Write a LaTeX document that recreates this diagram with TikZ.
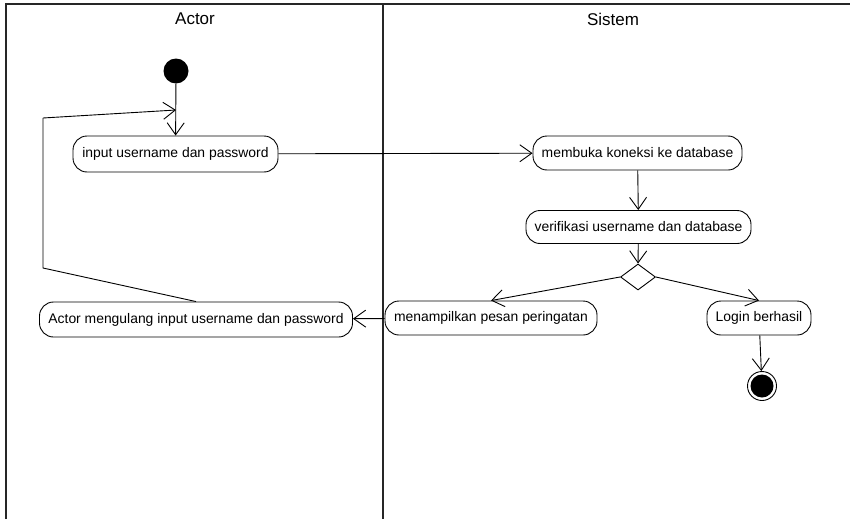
\documentclass[tikz,border=0pt]{standalone}
\usepackage{fontspec}
\setmainfont{Liberation Sans}
\usetikzlibrary{arrows.meta,shapes.geometric}
\begin{document}
\begin{tikzpicture}[x=1pt,y=-1pt,
  every node/.style={font=\fontsize{13.9}{16}\selectfont},
  act/.style={draw, rectangle, rounded corners=14pt, inner sep=0pt, line width=0.9pt},
  lane/.style={line width=1.6pt, draw=black!85},
  flow/.style={line width=0.9pt, -{Straight Barb[length=12pt,width=17pt,line width=0.9pt]}},
  plain/.style={line width=0.9pt},
  title/.style={font=\fontsize{17}{20}\selectfont}]
\useasboundingbox (0,0) rectangle (850,519);

% swimlane frame
\draw[lane] (6,519) -- (6,4) -- (850,4);
\draw[lane] (383,4) -- (383,519);
\node[title] (tActor) at (195,19) {Actor};
\node[title] (tSistem) at (613,19) {Sistem};

% initial and final states
\node[circle, fill=black, minimum size=25pt, inner sep=0pt] (start) at (176,71) {};
\node[circle, draw, line width=0.9pt, minimum size=29pt, inner sep=0pt] (finish) at (762,386) {};
\node[circle, fill=black, minimum size=23pt, inner sep=0pt] (finishdot) at (762,386) {};

% activities
\node[act, minimum width=205pt, minimum height=36pt] (input) at (175.5,154) {input username dan password};
\node[act, minimum width=209pt, minimum height=34pt] (buka) at (637.5,153) {membuka koneksi ke database};
\node[act, minimum width=225pt, minimum height=33pt] (verif) at (638.5,227) {verifikasi username dan database};
\node[act, minimum width=212pt, minimum height=34pt] (pesan) at (491,318) {menampilkan pesan peringatan};
\node[act, minimum width=104pt, minimum height=34pt] (login) at (759,318) {Login berhasil};
\node[act, minimum width=313pt, minimum height=35pt] (ulang) at (196,319.5) {Actor mengulang input username dan password};

% decision
\node[diamond, draw, line width=0.9pt, minimum width=35pt, minimum height=26pt, inner sep=0pt] (dec) at (638,277) {};

% flows
\draw[flow] (start) -- (input);
\draw[flow] (input) -- (buka);
\draw[flow] (buka) -- (verif);
\draw[flow] (verif) -- (dec.north);
\draw[flow] (dec.west) -- (pesan.north);
\draw[flow] (dec.east) -- (login.north);
\draw[flow] (login) -- (finish);
\draw[flow] (pesan) -- (ulang);

% loop back to the input activity
\coordinate (lb) at (43,268);
\coordinate (lt) at (43,118);
\coordinate (lin) at (176,110);
\draw[plain] (ulang.north) -- (lb) -- (lt);
\draw[flow] (lt) -- (lin);
\end{tikzpicture}
\end{document}
